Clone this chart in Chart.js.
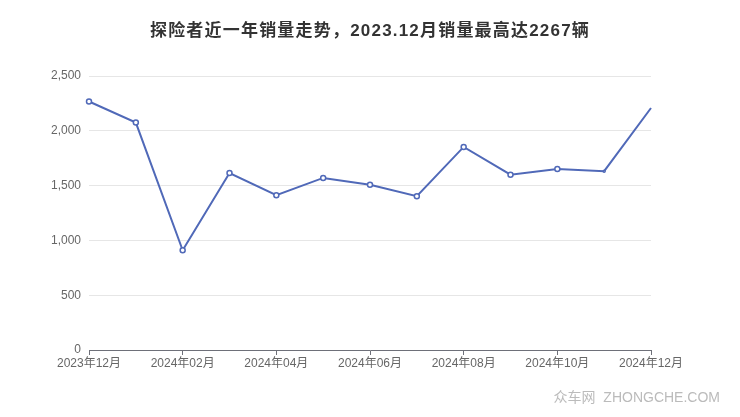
<!DOCTYPE html>
<html>
<head>
<meta charset="utf-8">
<script src="https://cdn.jsdelivr.net/npm/chart.js@4/dist/chart.umd.min.js"></script>
<style>
  html, body { margin: 0; padding: 0; background: #fff; }
  #wrap { position: relative; width: 740px; height: 417px; }
</style>
</head>
<body>
<div id="wrap"><canvas id="salesChart" width="740" height="417"></canvas></div>
<script>
const months = ['2023年12月', '2024年01月', '2024年02月', '2024年03月', '2024年04月', '2024年05月', '2024年06月',
                '2024年07月', '2024年08月', '2024年09月', '2024年10月', '2024年11月', '2024年12月'];
const sales = [2267, 2075, 910, 1615, 1412, 1570, 1507, 1403, 1853, 1600, 1652, 1632, 2208];
const yTicks = [0, 500, 1000, 1500, 2000, 2500];
const titleText = '探险者近一年销量走势，2023.12月销量最高达2267辆';
const watermark = '众车网  ZHONGCHE.COM';

const FONT = '"Liberation Sans", "Noto Sans CJK SC", sans-serif';
const LINE = '#5069b8';

const extras = {
    id: 'extras',
    afterDraw(chart) {
        const c = chart.ctx;
        c.save();
        c.textAlign = 'center'; c.textBaseline = 'middle';
        c.fillStyle = '#333'; c.font = 'bold 17px ' + FONT;
        c.letterSpacing = '1.2px';
        c.fillText(titleText, 370, 31);
        c.letterSpacing = '0px';
        c.textAlign = 'right';
        c.fillStyle = '#bbb'; c.font = '14px ' + FONT;
        c.fillText(watermark, 720, 398);
        c.restore();
    }
};

new Chart(document.getElementById('salesChart').getContext('2d'), {
    type: 'line',
    data: {
        labels: months,
        datasets: [{
            data: sales,
            borderColor: LINE,
            borderWidth: 2,
            backgroundColor: '#fff',
            pointBackgroundColor: '#fff',
            pointBorderColor: LINE,
            pointBorderWidth: 1.5,
            pointRadius: sales.map((v, i) => i === sales.length - 1 ? 0 : (i === sales.length - 2 ? 1 : 2.5)),
            tension: 0,
            fill: false
        }]
    },
    options: {
        responsive: false,
        animation: false,
        layout: { padding: { top: 76, right: 89, left: 0, bottom: 0 } },
        plugins: { legend: { display: false }, title: { display: false }, tooltip: { enabled: false } },
        scales: {
            x: {
                offset: false,
                afterFit(s) { s.height = 67; },
                border: { display: true, color: '#6e7079', width: 1 },
                grid: {
                    drawOnChartArea: false, drawTicks: true, tickLength: 5,
                    color: ctx => (ctx.index % 2 === 0 ? '#6e7079' : 'rgba(0,0,0,0)')
                },
                ticks: {
                    autoSkip: false, maxRotation: 0, padding: 1,
                    color: '#666', font: { family: FONT, size: 12 },
                    callback(v, i) { return i % 2 === 0 ? months[i] : ''; }
                }
            },
            y: {
                min: yTicks[0], max: yTicks[yTicks.length - 1],
                afterFit(s) { s.width = 89; },
                afterBuildTicks(s) { s.ticks = yTicks.map(v => ({ value: v })); },
                border: { display: false },
                grid: { color: '#e6e6e6', drawTicks: false },
                ticks: {
                    padding: 8, color: '#666', font: { family: FONT, size: 12 },
                    callback: v => v.toLocaleString('en-US')
                }
            }
        }
    },
    plugins: [extras]
});
</script>
</body>
</html>
